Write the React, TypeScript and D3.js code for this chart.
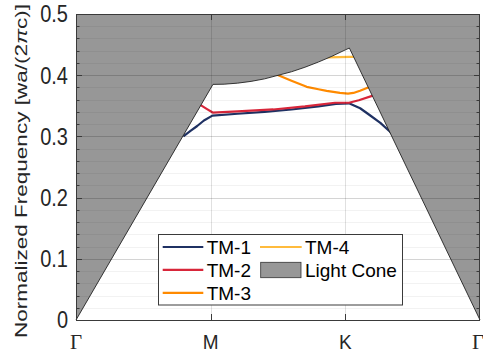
import React from "react";
import * as d3 from "d3";

// k-path positions: Γ=0, M=1, K=2, Γ=3
const tickPos = [0, 1, 2, 3];
const tickLabels = ["Γ", "M", "K", "Γ"];
const yTicks = [0, 0.1, 0.2, 0.3, 0.4, 0.5];
const yTickLabels = ["0", "0.1", "0.2", "0.3", "0.4", "0.5"];

// Light line (boundary of the light cone)
const lcX = [0, 1.017, 1.1, 1.2, 1.3, 1.4, 1.5, 1.6, 1.7, 1.8, 1.9, 2.0, 2.03, 3];
const lcY = [0, 0.385, 0.3853, 0.387, 0.3899, 0.394, 0.3998, 0.4056, 0.413, 0.4215, 0.4309, 0.4414, 0.4444, 0];

const tm1X = [0.797, 0.85, 0.9, 0.95, 1.013, 1.2, 1.4, 1.6, 1.8, 1.93, 2.027, 2.11, 2.18, 2.26, 2.33, 2.39];
const tm1Y = [0.3, 0.309, 0.317, 0.326, 0.334, 0.337, 0.34, 0.344, 0.349, 0.353, 0.354, 0.346, 0.335, 0.322, 0.308, 0.294];

const tm2X = [0.92, 0.97, 1.015, 1.2, 1.465, 1.7, 1.923, 2.027, 2.1, 2.21];
const tm2Y = [0.352, 0.345, 0.339, 0.341, 0.344, 0.349, 0.355, 0.355, 0.359, 0.367];

const tm3X = [1.48, 1.6, 1.713, 1.8, 1.861, 1.96, 2.02, 2.06, 2.109, 2.17, 2.2];
const tm3Y = [0.402, 0.391, 0.381, 0.377, 0.3745, 0.371, 0.37, 0.371, 0.3747, 0.38, 0.384];

const tm4X = [1.86, 1.95, 2.03, 2.08];
const tm4Y = [0.429, 0.4295, 0.43, 0.43];

const seriesNames = ["TM-1", "TM-2", "TM-3", "TM-4"];
const seriesColors = ["#1f3163", "#d8263a", "#ff8a00", "#ffbb3c"];
const coneColor = "#979797";

const W = 483;
const H = 356;
const left = 76;
const right = 480;
const top = 14;
const bottom = 320;

export default function App() {
  const x = d3.scaleLinear().domain([0, 3]).range([left, right]);
  const y = d3.scaleLinear().domain([0, 0.5]).range([bottom, top]);

  const line = d3
    .line<[number, number]>()
    .x((d) => x(d[0]))
    .y((d) => y(d[1]));

  const zip = (a: number[], b: number[]) => a.map((v, i) => [v, b[i]] as [number, number]);
  const series = [zip(tm1X, tm1Y), zip(tm2X, tm2Y), zip(tm3X, tm3Y), zip(tm4X, tm4Y)];

  const lc = zip(lcX, lcY);
  const conePoly: [number, number][] = [...lc, [3, 0.5], [0, 0.5]];
  const conePath = line(conePoly) + "Z";
  const coneEdge = line(lc) as string;

  const minorTicks = d3.range(0, 0.5001, 0.02);

  const font = "'Liberation Sans', Arial, Helvetica, sans-serif";

  return (
    <svg width={W} height={H} style={{ position: "absolute", left: 0, top: 0, background: "#fff" }}>
      <rect x={0} y={0} width={W} height={H} fill="#fff" />
      {/* bands */}
      {series.map((s, i) => (
        <path key={i} d={line(s) as string} fill="none" stroke={seriesColors[i]} strokeWidth={2.2} strokeLinejoin="round" />
      ))}
      {/* light cone */}
      <path d={conePath} fill={coneColor} stroke="none" />
      <path d={coneEdge} fill="none" stroke="#222" strokeWidth={0.9} />
      {/* grid */}
      {minorTicks.map((t, i) => (
        <line key={"mg" + i} x1={left} x2={right} y1={Math.round(y(t)) + 0.5} y2={Math.round(y(t)) + 0.5} stroke="#000" strokeOpacity={0.05} />
      ))}
      {yTicks.map((t, i) => (
        <line key={"g" + i} x1={left} x2={right} y1={Math.round(y(t)) + 0.5} y2={Math.round(y(t)) + 0.5} stroke="#000" strokeOpacity={0.12} />
      ))}
      {tickPos.slice(1, 3).map((t, i) => (
        <line key={"vg" + i} x1={Math.round(x(t)) + 0.5} x2={Math.round(x(t)) + 0.5} y1={top} y2={bottom} stroke="#000" strokeOpacity={0.12} />
      ))}
      {/* axes box */}
      <rect x={left + 0.5} y={top + 0.5} width={right - left - 1} height={bottom - top} fill="none" stroke="#3a3a3a" strokeWidth={1} />
      {/* y ticks */}
      {minorTicks.map((t, i) => {
        const yy = Math.round(y(t)) + 0.5;
        const major = Math.abs(t * 10 - Math.round(t * 10)) < 1e-6;
        const len = major ? 6 : 3.5;
        return (
          <g key={"yt" + i} stroke="#3a3a3a">
            <line x1={left} x2={left + len} y1={yy} y2={yy} />
            <line x1={right} x2={right - len} y1={yy} y2={yy} />
          </g>
        );
      })}
      {/* x ticks */}
      {tickPos.slice(1, 3).map((t, i) => {
        const xx = Math.round(x(t)) + 0.5;
        return (
          <g key={"xt" + i} stroke="#3a3a3a">
            <line x1={xx} x2={xx} y1={bottom} y2={bottom - 6} />
            <line x1={xx} x2={xx} y1={top} y2={top + 6} />
          </g>
        );
      })}
      {/* y tick labels */}
      {yTicks.map((t, i) => (
        <text
          key={"yl" + i}
          transform={`translate(68,${y(t)}) scale(1,1.2)`}
          dy="0.35em"
          textAnchor="end"
          fontFamily={font}
          fontSize={20}
          fill="#262626"
        >
          {yTickLabels[i]}
        </text>
      ))}
      {/* x tick labels */}
      {tickPos.map((t, i) => {
        const isGamma = tickLabels[i] === "Γ";
        return (
          <text
            key={"xl" + i}
            transform={`translate(${x(t) + (i === 3 ? -2 : 0)},348.5) scale(1,${isGamma ? 1 : 1.1})`}
            textAnchor="middle"
            fontFamily={isGamma ? "'Liberation Serif', 'Times New Roman', serif" : font}
            fontSize={isGamma ? 21 : 19}
            fill="#262626"
          >
            {tickLabels[i]}
          </text>
        );
      })}
      {/* y axis label */}
      <text
        transform="translate(27,171) rotate(-90)"
        textAnchor="middle"
        fontFamily={font}
        fontSize={16}
        fill="#262626"
        textLength={334}
        lengthAdjust="spacingAndGlyphs"
      >
        Normalized Frequency [wa/(2<tspan fontStyle="italic">π</tspan>c)]
      </text>
      {/* legend */}
      <rect x={158.5} y={234.5} width={244} height={70.5} fill="#fff" stroke="#3a3a3a" strokeWidth={1} />
      {[0, 1, 2].map((i) => {
        const cy = 247 + i * 22.9;
        return (
          <g key={"lg" + i}>
            <line x1={162.7} x2={203.3} y1={cy} y2={cy} stroke={seriesColors[i]} strokeWidth={2.2} />
            <text x={206.7} y={cy + 7} fontFamily={font} fontSize={19} fill="#000">
              {seriesNames[i]}
            </text>
          </g>
        );
      })}
      <line x1={260} x2={301.7} y1={247} y2={247} stroke={seriesColors[3]} strokeWidth={2.2} />
      <text x={305} y={254} fontFamily={font} fontSize={19} fill="#000">
        {seriesNames[3]}
      </text>
      <rect x={260.7} y={262.3} width={40.3} height={15.4} fill={coneColor} stroke="#333" strokeWidth={0.8} />
      <text x={305} y={276.9} fontFamily={font} fontSize={19} fill="#000">
        Light Cone
      </text>
    </svg>
  );
}
